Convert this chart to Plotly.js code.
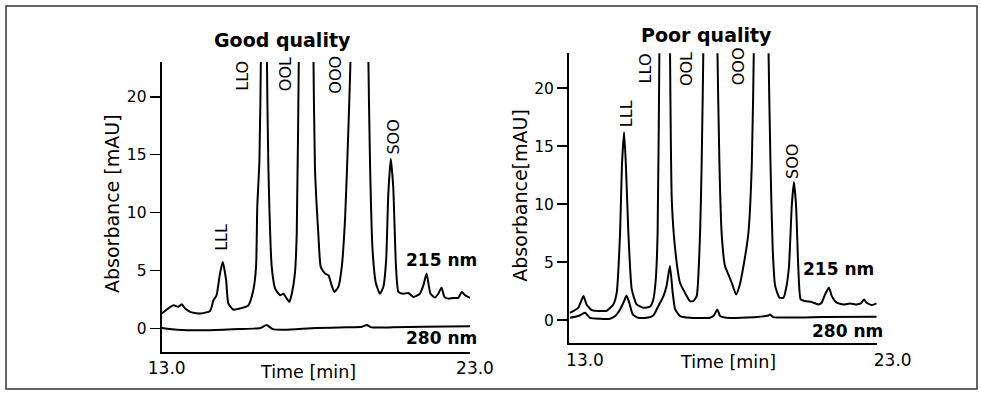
<!DOCTYPE html>
<html>
<head>
<meta charset="utf-8">
<script src="https://cdn.plot.ly/plotly-3.0.1.min.js"></script>
<style>html,body{margin:0;padding:0;background:#fff;}#chart{width:981px;height:401px;}</style>
</head>
<body>
<div id="chart"></div>
<script>
// ---- Data (time in min, absorbance in mAU) ----
// Good quality, 215 nm (off-scale peak tops estimated)
const goodTime215 = [13.00,13.38,13.54,13.65,13.76,13.92,14.24,14.57,14.68,14.78,14.89,14.98,15.09,15.16,15.32,15.54,15.81,15.97,16.06,16.10,16.17,16.22,16.31,16.41,16.46,16.57,16.68,16.84,16.95,17.05,17.14,17.22,17.32,17.38,17.45,17.70,17.92,17.97,18.08,18.16,18.30,18.41,18.51,18.60,18.73,18.84,18.95,19.05,19.13,19.40,19.70,19.76,19.84,19.95,20.08,20.19,20.28,20.35,20.43,20.51,20.60,20.68,20.84,21.00,21.16,21.36,21.49,21.59,21.72,21.86,21.97,22.08,22.17,22.30,22.46,22.62,22.73,22.84,23.00];
const goodAbs215  = [1.29,2.00,1.87,2.10,1.72,1.44,1.29,1.52,2.44,2.87,4.74,5.75,4.17,2.16,1.64,1.72,2.00,3.30,5.30,10.5,14.5,24.0,100,24.0,13.9,5.30,3.45,2.87,3.00,2.60,2.30,3.00,4.74,8.20,24.0,100,24.0,13.9,8.20,5.30,4.74,4.60,3.74,3.16,3.60,5.30,9.60,16.8,24.0,150,24.0,13.9,6.75,3.88,3.00,3.60,5.90,11.6,14.65,12.2,5.30,3.16,3.00,3.07,2.73,2.96,3.74,4.74,3.00,2.67,3.00,3.53,2.73,2.58,2.64,2.64,3.16,2.87,2.64];
// Good quality, 280 nm
const goodTime280 = [13.0,13.5,14.5,15.5,16.2,16.4,16.6,17.0,18.0,19.0,19.5,19.65,19.8,20.5,21.5,23.0];
const goodAbs280  = [0.05,-0.10,-0.15,-0.05,0.05,0.30,-0.05,-0.10,0.05,0.10,0.15,0.30,0.10,0.10,0.15,0.20];
// Poor quality, 215 nm
const poorTime215 = [13.03,13.30,13.47,13.57,13.74,14.01,14.22,14.44,14.55,14.66,14.72,14.79,14.85,14.93,15.04,15.20,15.42,15.63,15.74,15.82,15.88,15.94,16.11,16.28,16.34,16.45,16.61,16.77,16.93,17.04,17.15,17.26,17.31,17.37,17.60,17.82,17.89,17.96,18.07,18.18,18.29,18.43,18.54,18.67,18.83,18.94,19.01,19.25,19.48,19.55,19.62,19.70,19.84,19.97,20.07,20.15,20.24,20.31,20.38,20.45,20.53,20.67,20.89,21.10,21.21,21.32,21.45,21.54,21.70,21.92,22.13,22.35,22.48,22.59,22.67,22.84,23.00];
const poorAbs215  = [0.63,1.06,2.07,1.35,0.86,0.78,0.80,1.35,2.36,7.50,13.3,16.2,13.3,7.50,2.65,1.35,1.06,1.15,1.78,3.50,7.50,24.0,100,24.0,10.4,6.10,3.20,2.36,1.64,1.64,2.07,7.50,13.3,24.0,100,24.0,13.3,7.50,4.66,3.94,3.22,2.20,2.94,4.66,7.50,13.3,24.0,150,24.0,13.3,6.10,2.94,1.93,1.93,2.94,4.66,9.84,11.9,9.84,4.66,1.78,1.64,1.55,1.35,1.50,2.20,2.80,2.07,1.50,1.35,1.44,1.35,1.44,1.78,1.50,1.30,1.44];
// Poor quality, 280 nm
const poorTime280 = [13.03,13.30,13.52,13.68,14.01,14.33,14.50,14.66,14.79,14.87,14.96,15.07,15.25,15.52,15.74,15.90,16.07,16.17,16.28,16.37,16.45,16.61,16.93,17.58,17.71,17.82,17.91,18.12,19.10,19.48,19.53,19.64,21.27,23.00];
const poorAbs280  = [0.20,0.35,0.63,0.20,0.12,0.12,0.35,0.92,1.64,2.13,1.50,0.49,0.20,0.20,0.40,1.20,2.07,2.94,4.66,2.36,0.92,0.35,0.20,0.20,0.40,0.92,0.35,0.20,0.26,0.40,0.49,0.26,0.26,0.28];

// Peak labels
const peakNames = ["LLL","LLO","OOL","OOO","SOO"];
const goodPeakTime = [14.95,15.63,17.00,18.65,20.51];
const goodPeakAbs  = [7.9,21.8,21.95,21.9,16.5];
const poorPeakTime = [14.87,15.47,16.82,18.50,20.24];
const poorPeakAbs  = [17.8,21.7,21.6,21.9,13.7];

// Axis ticks
const yTicks = [0,5,10,15,20];
const xTickVals = [13,23];
const xTickText = ["13.0","23.0"];

// ---- Build ----
const W = 981, H = 401;
const px = v => v / W;
const py = v => 1 - v / H;
const REG = "DejaVu Sans, Liberation Sans, Arial, sans-serif";
const BOLD = "DejaVu Sans, Liberation Sans, Arial, sans-serif";

function line(x, y, xa, ya) {
  return {x: x, y: y, xaxis: xa, yaxis: ya, type: "scatter", mode: "lines",
          line: {color: "#000", width: 2, shape: "spline", smoothing: 0.5}, hoverinfo: "skip"};
}
const traces = [
  line(goodTime215, goodAbs215, "x", "y"),
  line(goodTime280, goodAbs280, "x", "y"),
  line(poorTime215, poorAbs215, "x2", "y2"),
  line(poorTime280, poorAbs280, "x2", "y2")
];

function xAxis(dom, anchor, shift) {
  return {domain: dom, anchor: anchor, range: [13, 23], showgrid: false, zeroline: false,
          showline: true, linecolor: "#000", linewidth: 2,
          tickmode: "array", tickvals: xTickVals, ticktext: xTickText,
          ticks: "inside", ticklen: 5, tickwidth: 2, tickcolor: "#000",
          ticklabelshift: shift,
          tickfont: {family: REG, size: 17, color: "#000"}, fixedrange: true, automargin: false};
}
function yAxis(dom, anchor) {
  return {domain: dom, anchor: anchor, range: [-2, 23], showgrid: false, zeroline: false,
          showline: true, linecolor: "#000", linewidth: 2,
          tickmode: "array", tickvals: yTicks,
          ticks: "outside", ticklen: 10, tickwidth: 1.5, tickcolor: "#000",
          tickfont: {family: REG, size: 15.5, color: "#000"}, fixedrange: true, automargin: false};
}

const annotations = [];
function txt(x, y, xref, yref, text, size, bold, angle) {
  annotations.push({x: x, y: y, xref: xref, yref: yref, text: bold ? "<b>" + text + "</b>" : text,
    showarrow: false, textangle: angle || 0, xanchor: "center", yanchor: "middle",
    font: {family: bold ? BOLD : REG, size: size, color: "#000"}});
}
// titles
txt(px(282.5), py(40), "paper", "paper", "Good quality", 19, true);
txt(px(706.7), py(35), "paper", "paper", "Poor quality", 19, true);
// axis titles
txt(px(112), py(204), "paper", "paper", "Absorbance [mAU]", 19, false, -90);
txt(px(520), py(195.7), "paper", "paper", "Absorbance[mAU]", 19, false, -90);
txt(px(307.5), py(372), "paper", "paper", "Time [min]", 17.5, false);
txt(px(727.5), py(361.7), "paper", "paper", "Time [min]", 17.5, false);
// peak labels
peakNames.forEach((n, i) => {
  txt(goodPeakTime[i], goodPeakAbs[i], "x", "y", n, 16, false, -90);
  txt(poorPeakTime[i], poorPeakAbs[i], "x2", "y2", n, 16, false, -90);
});
// wavelength labels
txt(22.06, 5.9, "x", "y", "215 nm", 17, true);
txt(22.06, -0.84, "x", "y", "280 nm", 17, true);
txt(21.75, 4.43, "x2", "y2", "215 nm", 17, true);
txt(22.05, -0.95, "x2", "y2", "280 nm", 17, true);

const layout = {
  width: W, height: H, margin: {l: 0, r: 0, t: 0, b: 0, pad: 0},
  paper_bgcolor: "#fff", plot_bgcolor: "rgba(0,0,0,0)", showlegend: false,
  xaxis: xAxis([px(161.7), px(470)], "y", 5),
  yaxis: yAxis([py(351.7), py(62)], "x"),
  xaxis2: xAxis([px(569), px(876.7)], "y2", 16),
  yaxis2: yAxis([py(343.3), py(53.3)], "x2"),
  annotations: annotations,
  shapes: [{type: "rect", xref: "paper", yref: "paper", x0: px(6), x1: px(977), y0: py(389), y1: py(6),
            line: {color: "#333", width: 1.5}, fillcolor: "rgba(0,0,0,0)"}]
};

Plotly.newPlot("chart", traces, layout, {staticPlot: true, displayModeBar: false});
</script>
</body>
</html>
